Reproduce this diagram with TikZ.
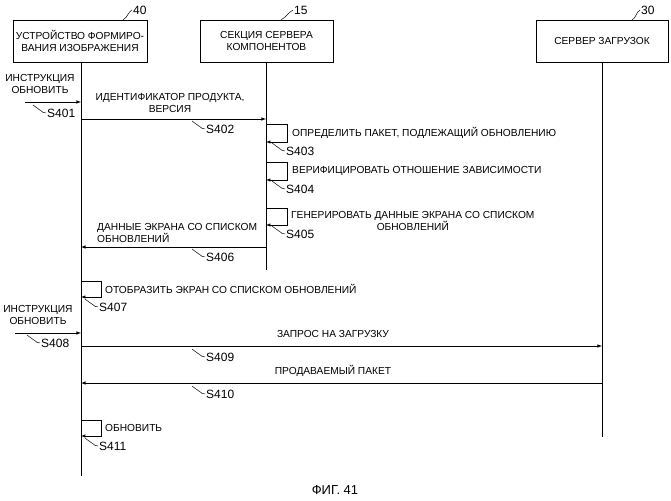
\documentclass[tikz,border=0pt]{standalone}
\usepackage{fontspec}
\setmainfont{Liberation Sans}
\begin{document}
\begin{tikzpicture}[yscale=-1,x=1pt,y=1pt,font=\fontsize{10.2}{12.5}\selectfont
            ,boxstyle/.style={draw,line width=0.6pt,minimum height=42pt,inner sep=1pt,align=center}
            ,lifestyle/.style={line width=0.5pt}
            ,msgstyle/.style={line width=0.6pt,-latex}
            ,loopstyle/.style={line width=0.5pt,-latex}
            ,txtstyle/.style={inner sep=1pt,align=center}
            ,lblstyle/.style={inner sep=1pt,anchor=west,font=\fontsize{12}{14}\selectfont}
            ,squig/.style={line width=0.5pt}
        ]
        \useasboundingbox (0,0) rectangle (671,500);
        % lifeline heads
        \node[boxstyle,minimum width=134pt] (dev) at (80,41) {УСТРОЙСТВО ФОРМИРО-\\ВАНИЯ ИЗОБРАЖЕНИЯ};
        \node[boxstyle,minimum width=133pt] (comp) at (266.5,41) {СЕКЦИЯ СЕРВЕРА\\КОМПОНЕНТОВ};
        \node[boxstyle,minimum width=132pt] (dl) at (602,41) {СЕРВЕР ЗАГРУЗОК};
        \node[lblstyle] (n40) at (132,10) {40};
        \node[lblstyle] (n15) at (293,10) {15};
        \node[lblstyle] (n30) at (640,10) {30};
        \draw[squig] (dev.north east) ++(-24,0) .. controls +(4,-2) and +(-4,2) .. (n40.west);
        \draw[squig] (comp.north east) ++(-52,0) .. controls +(4,-2) and +(-4,2) .. (n15.west);
        \draw[squig] (dl.north east) ++(-36,0) .. controls +(4,-2) and +(-4,2) .. (n30.west);
        % lifelines
        \coordinate (devend) at (81,476);
        \coordinate (compend) at (266,270);
        \coordinate (dlend) at (602,437);
        \draw[lifestyle] (81,62) -- (devend);
        \draw[lifestyle] (266,62) -- (compend);
        \draw[lifestyle] (602,62) -- (dlend);
        % S401
        \coordinate (in1) at (25,102);
        \coordinate (d1) at (81,102);
        \draw[msgstyle] (in1) -- (d1);
        \node[txtstyle] (t401) at (40,84) {ИНСТРУКЦИЯ\\ОБНОВИТЬ};
        \node[lblstyle] (s401) at (46,113) {S401};
        % S402
        \coordinate (d2) at (81,119);
        \coordinate (c2) at (266,119);
        \draw[msgstyle] (d2) -- (c2);
        \node[txtstyle] (t402) at (170,103) {ИДЕНТИФИКАТОР ПРОДУКТА,\\ВЕРСИЯ};
        \node[lblstyle] (s402) at (205,129) {S402};
        % S403
        \coordinate (c3a) at (266,124);
        \coordinate (c3b) at (266,142);
        \draw[loopstyle] (c3a) -- ++(21,0) |- (c3b);
        \node[txtstyle,anchor=west] (t403) at (291,133) {ОПРЕДЕЛИТЬ ПАКЕТ, ПОДЛЕЖАЩИЙ ОБНОВЛЕНИЮ};
        \node[lblstyle] (s403) at (285,151) {S403};
        % S404
        \coordinate (c4a) at (266,162);
        \coordinate (c4b) at (266,180);
        \draw[loopstyle] (c4a) -- ++(21,0) |- (c4b);
        \node[txtstyle,anchor=west] (t404) at (291,171) {ВЕРИФИЦИРОВАТЬ ОТНОШЕНИЕ ЗАВИСИМОСТИ};
        \node[lblstyle] (s404) at (285,189) {S404};
        % S405
        \coordinate (c5a) at (266,208);
        \coordinate (c5b) at (266,225);
        \draw[loopstyle] (c5a) -- ++(21,0) |- (c5b);
        \node[txtstyle,anchor=west] (t405) at (290,221) {ГЕНЕРИРОВАТЬ ДАННЫЕ ЭКРАНА СО СПИСКОМ\\ОБНОВЛЕНИЙ};
        \node[lblstyle] (s405) at (285,234) {S405};
        % S406
        \coordinate (c6) at (266,247);
        \coordinate (d6) at (81,247);
        \draw[msgstyle] (c6) -- (d6);
        \node[txtstyle,align=left,anchor=west] (t406) at (96,233) {ДАННЫЕ ЭКРАНА СО СПИСКОМ\\ОБНОВЛЕНИЙ};
        \node[lblstyle] (s406) at (205,257) {S406};
        % S407
        \coordinate (d7a) at (81,281);
        \coordinate (d7b) at (81,297);
        \draw[loopstyle] (d7a) -- ++(20,0) |- (d7b);
        \node[txtstyle,anchor=west] (t407) at (104,289) {ОТОБРАЗИТЬ ЭКРАН СО СПИСКОМ ОБНОВЛЕНИЙ};
        \node[lblstyle] (s407) at (98,307) {S407};
        % S408
        \coordinate (in8) at (15,333);
        \coordinate (d8) at (81,333);
        \draw[msgstyle] (in8) -- (d8);
        \node[txtstyle] (t408) at (38,315) {ИНСТРУКЦИЯ\\ОБНОВИТЬ};
        \node[lblstyle] (s408) at (40,343) {S408};
        % S409
        \coordinate (d9) at (81,346);
        \coordinate (l9) at (602,346);
        \draw[msgstyle] (d9) -- (l9);
        \node[txtstyle] (t409) at (333,334) {ЗАПРОС НА ЗАГРУЗКУ};
        \node[lblstyle] (s409) at (205,357) {S409};
        % S410
        \coordinate (l10) at (602,383);
        \coordinate (d10) at (81,383);
        \draw[msgstyle] (l10) -- (d10);
        \node[txtstyle] (t410) at (333,371) {ПРОДАВАЕМЫЙ ПАКЕТ};
        \node[lblstyle] (s410) at (205,394) {S410};
        % S411
        \coordinate (d11a) at (81,420);
        \coordinate (d11b) at (81,436);
        \draw[loopstyle] (d11a) -- ++(20,0) |- (d11b);
        \node[txtstyle,anchor=west] (t411) at (104,428) {ОБНОВИТЬ};
        \node[lblstyle] (s411) at (98,446) {S411};
        % step squiggles
        \foreach \s in {s401,s402,s403,s404,s405,s406,s407,s408,s409,s410,s411}
            \draw[squig] (\s.west) .. controls +(-5,0) and +(4,1) .. ++(-9,-5) .. controls +(-2,-1) .. ++(-4,-3);
        \node[font=\fontsize{13}{15}\selectfont] (fig) at (335,490) {ФИГ. 41};
    \end{tikzpicture}
\end{document}
